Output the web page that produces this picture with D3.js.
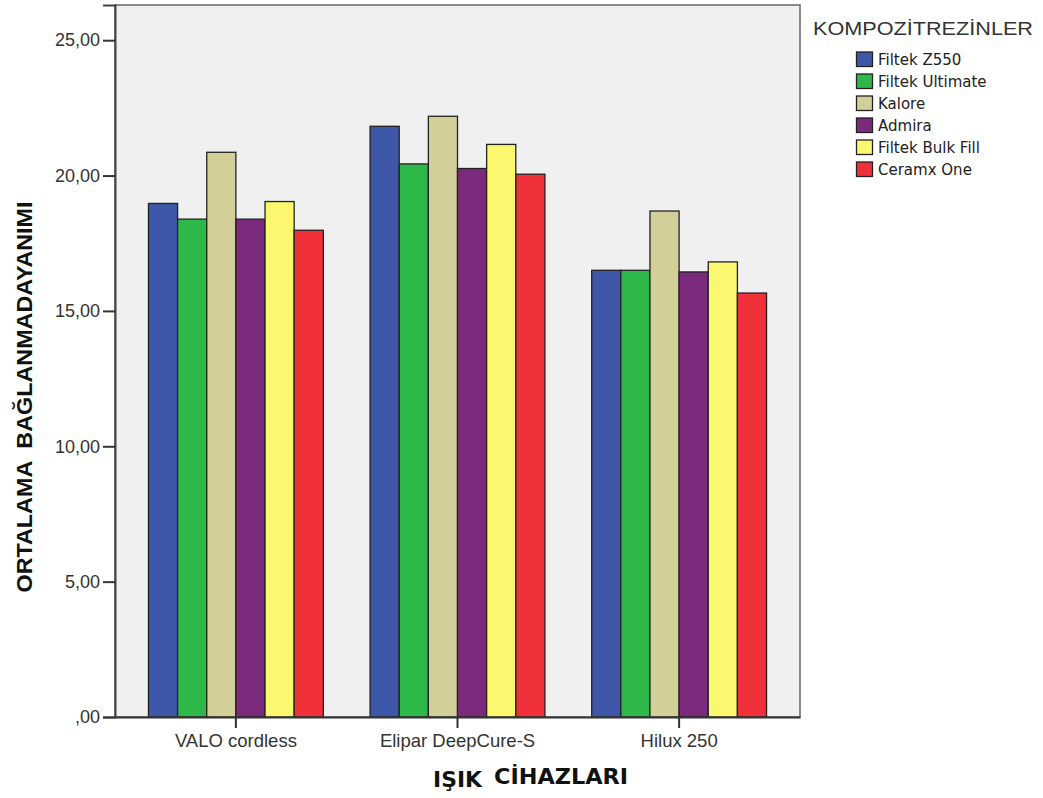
<!DOCTYPE html>
<html><head><meta charset="utf-8">
<script src="https://cdn.jsdelivr.net/npm/d3@7"></script>
<style>body{margin:0;background:#fff}</style>
</head><body>
<svg id="c" width="1043" height="798"></svg>
<script>
const categories = ["VALO cordless", "Elipar DeepCure-S", "Hilux 250"];
const series = ["Filtek Z550", "Filtek Ultimate", "Kalore", "Admira", "Filtek Bulk Fill", "Ceramx One"];
const colors = ["#3f57a9", "#2fb84a", "#d3cf98", "#7b2a7c", "#fbf86f", "#f03139"];
const valoValues = [18.97, 18.39, 20.86, 18.39, 19.04, 17.98];
const eliparValues = [21.82, 20.43, 22.19, 20.26, 21.15, 20.05];
const hiluxValues = [16.50, 16.50, 18.69, 16.44, 16.81, 15.66];
const yTicks = [0, 5, 10, 15, 20, 25];
const yTickLabels = [",00", "5,00", "10,00", "15,00", "20,00", "25,00"];

const values = [valoValues, eliparValues, hiluxValues];
const svg = d3.select("#c");
const L = 115, R = 800, T = 5, B = 717;

const x0 = d3.scaleBand().domain(categories).range([L, R]).paddingInner(0.211).paddingOuter(0.151);
const x1 = d3.scaleBand().domain(series).range([0, x0.bandwidth()]);
const y = d3.scaleLinear().domain([0, 26.3]).range([B, T]);

svg.append("rect").attr("x", L).attr("y", T).attr("width", R - L).attr("height", B - T)
  .attr("fill", "#f0f0f0").attr("stroke", "#666").attr("stroke-width", 1.5);

const g = svg.append("g");
categories.forEach((c, ci) => {
  g.selectAll(null).data(values[ci]).enter().append("rect")
    .attr("x", (d, i) => x0(c) + x1(series[i]))
    .attr("y", d => y(d))
    .attr("width", x1.bandwidth())
    .attr("height", d => B - y(d))
    .attr("fill", (d, i) => colors[i])
    .attr("stroke", "#222").attr("stroke-width", 1.3);
});

// y axis
const ya = svg.append("g").attr("transform", `translate(${L},0)`)
  .call(d3.axisLeft(y).tickValues(yTicks).tickSize(12).tickPadding(3)
    .tickFormat((d, i) => yTickLabels[i]));
ya.select(".domain").attr("stroke", "#444").attr("stroke-width", 2);
ya.selectAll(".tick line").attr("stroke", "#333").attr("stroke-width", 2);
ya.selectAll(".tick text").attr("font-family", "Liberation Sans, Arial").attr("font-size", 18).attr("fill", "#333");

// x axis
const xa = svg.append("g").attr("transform", `translate(0,${B})`)
  .call(d3.axisBottom(x0).tickSize(11).tickPadding(6).tickSizeOuter(0));
xa.select(".domain").attr("stroke", "#333").attr("stroke-width", 2);
xa.selectAll(".tick line").attr("stroke", "#333").attr("stroke-width", 2);
xa.selectAll(".tick text").attr("font-family", "Liberation Sans, Arial").attr("font-size", 18.5).attr("fill", "#333");

// y title
svg.append("text").attr("transform", "translate(32,397) rotate(-90)")
  .attr("text-anchor", "middle").attr("font-family", "Liberation Sans, Arial").attr("font-weight", "bold")
  .attr("font-size", 22.5).attr("fill", "#111").attr("xml:space", "preserve")
  .attr("textLength", 391).attr("lengthAdjust", "spacingAndGlyphs")
  .text("ORTALAMA  BAĞLANMADAYANIMI");

// x title
svg.append("text").attr("x", 433).attr("y", 787)
  .attr("font-family", "DejaVu Sans").attr("font-weight", "bold")
  .attr("font-size", 21).attr("fill", "#111")
  .attr("textLength", 49).attr("lengthAdjust", "spacingAndGlyphs").text("IŞIK");
svg.append("text").attr("x", 494).attr("y", 784)
  .attr("font-family", "DejaVu Sans").attr("font-weight", "bold")
  .attr("font-size", 21).attr("fill", "#111")
  .attr("textLength", 134).attr("lengthAdjust", "spacingAndGlyphs").text("CİHAZLARI");

// legend
svg.append("text").attr("x", 813).attr("y", 35)
  .attr("font-family", "Liberation Sans, Arial").attr("font-size", 19).attr("fill", "#333")
  .attr("textLength", 220).attr("lengthAdjust", "spacingAndGlyphs")
  .text("KOMPOZİTREZİNLER");
const lg = svg.append("g");
series.forEach((s, i) => {
  const yy = 52 + i * 22;
  lg.append("rect").attr("x", 856.5).attr("y", yy).attr("width", 16).attr("height", 14.5)
    .attr("fill", colors[i]).attr("stroke", "#222").attr("stroke-width", 1.3);
  lg.append("text").attr("x", 878).attr("y", yy + 13)
    .attr("font-family", "DejaVu Sans").attr("font-size", 15).attr("fill", "#222").text(s);
});
</script>
</body></html>
